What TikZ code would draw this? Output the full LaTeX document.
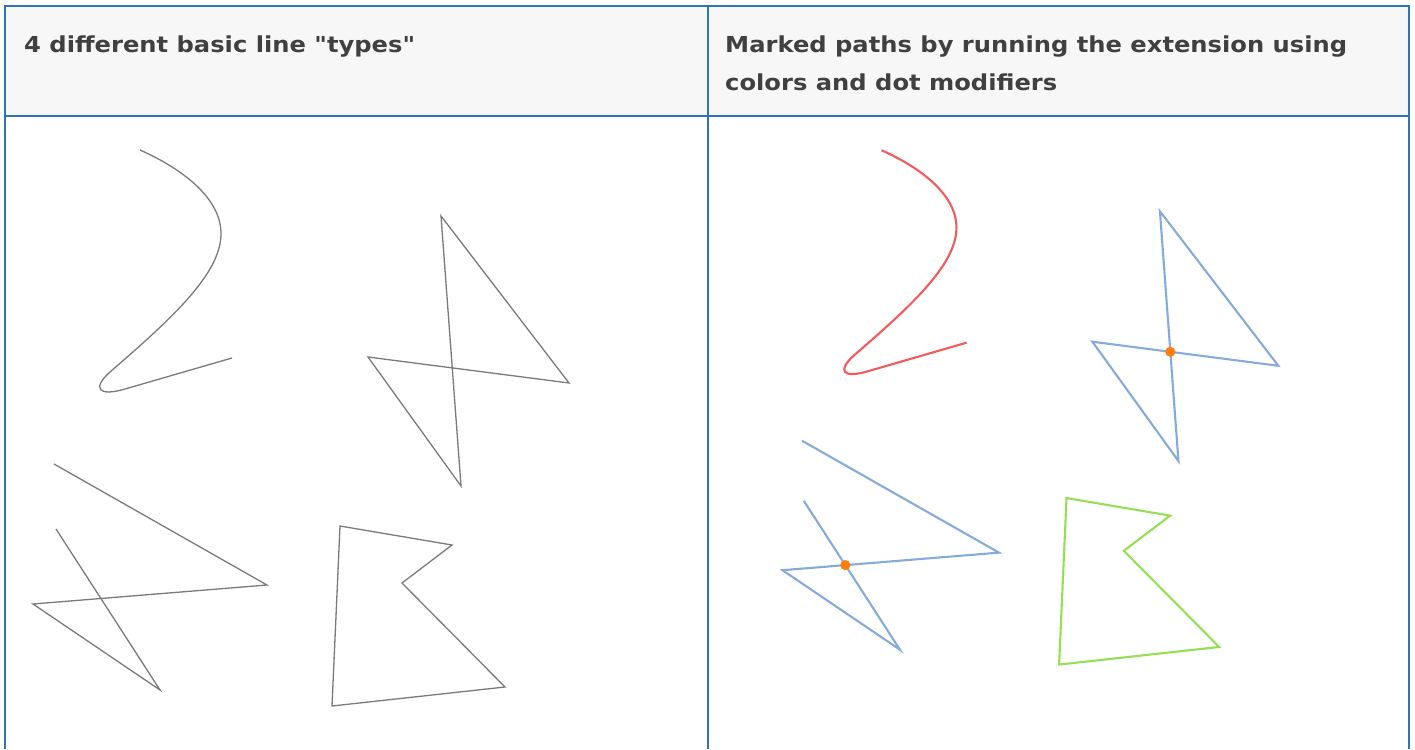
\documentclass[tikz,border=0pt]{standalone}
\usepackage{fontspec}
\setmainfont{DejaVu Sans}
\newfontfamily\headfont{DejaVu Sans}[FakeStretch=1.1, Ligatures=TeXOff]
\usepackage{tikz}
\definecolor{tblblue}{HTML}{2F75B5}
\definecolor{headfill}{HTML}{F7F7F7}
\definecolor{headtext}{HTML}{404040}
\definecolor{linegray}{HTML}{7A7A7A}
\definecolor{pathred}{HTML}{F45A5A}
\definecolor{pathblue}{HTML}{85ABDB}
\definecolor{pathgreen}{HTML}{94E052}
\definecolor{dotorange}{HTML}{FF7F0E}

\begin{document}
\begin{tikzpicture}[x=1pt, y=-1pt,
    head/.style={inner sep=0pt, text=headtext, font=\headfont\fontsize{22}{38}\selectfont\bfseries},
    grid/.style={draw=tblblue, line width=2pt},
    plain/.style={draw=linegray, line width=1.3pt},
    marked/.style={draw=#1, line width=2.1pt},
    hit/.style={fill=dotorange},
]
    \useasboundingbox (0,0) rectangle (1415,749);

    % table frame and header row
    \fill[headfill] (5,6) rectangle (1409,116);
    \draw[grid] (5,749) -- (5,6) -- (1409,6) -- (1409,749);
    \draw[grid] (5,116) -- (1409,116);
    \draw[grid] (708,6) -- (708,749);
    \node[head, anchor=base west] (lefthead) at (24,53) {4 different basic line "types"};
    \node[head, anchor=north west, align=left] (righthead) at (725,36)
        {Marked paths by running the extension using\\colors and dot modifiers};

    % left cell: the four basic lines
    \draw[plain] (140,150) .. controls (185,170) and (222,200) .. (221,235)
        .. controls (220,275) and (170,320) .. (110,372)
        .. controls (92,388) and (98,397) .. (125,389) -- (232,358);
    \draw[plain] (441,216) -- (569,383) -- (368,357) -- (461,486) -- cycle;
    \draw[plain] (54,464) -- (267,585) -- (33,604) -- (160,690) -- (56,529);
    \draw[plain] (340,526) -- (452,545) -- (402,583) -- (505,687) -- (332,706) -- cycle;

    % right cell: same lines, marked
    \begin{scope}[shift={(752,11.5)}, scale=0.925]
        \draw[marked=pathred] (140,150) .. controls (185,170) and (222,200) .. (221,235)
            .. controls (220,275) and (170,320) .. (110,372)
            .. controls (92,388) and (98,397) .. (125,389) -- (232,358);
        \draw[marked=pathblue] (441,216) coordinate (b1) -- (569,383) coordinate (b2)
            -- (368,357) coordinate (b3) -- (461,486) coordinate (b4) -- cycle;
        \draw[marked=pathblue] (54,464) -- (267,585) coordinate (c2) -- (33,604) coordinate (c3)
            -- (160,690) coordinate (c4) -- (56,529) coordinate (c5);
        \draw[marked=pathgreen] (340,526) -- (452,545) -- (402,583) -- (505,687) -- (332,706) -- cycle;
        \fill[hit] (intersection of b1--b4 and b2--b3) circle[radius=5.5];
        \fill[hit] (intersection of c4--c5 and c2--c3) circle[radius=5.5];
    \end{scope}
\end{tikzpicture}
\end{document}
